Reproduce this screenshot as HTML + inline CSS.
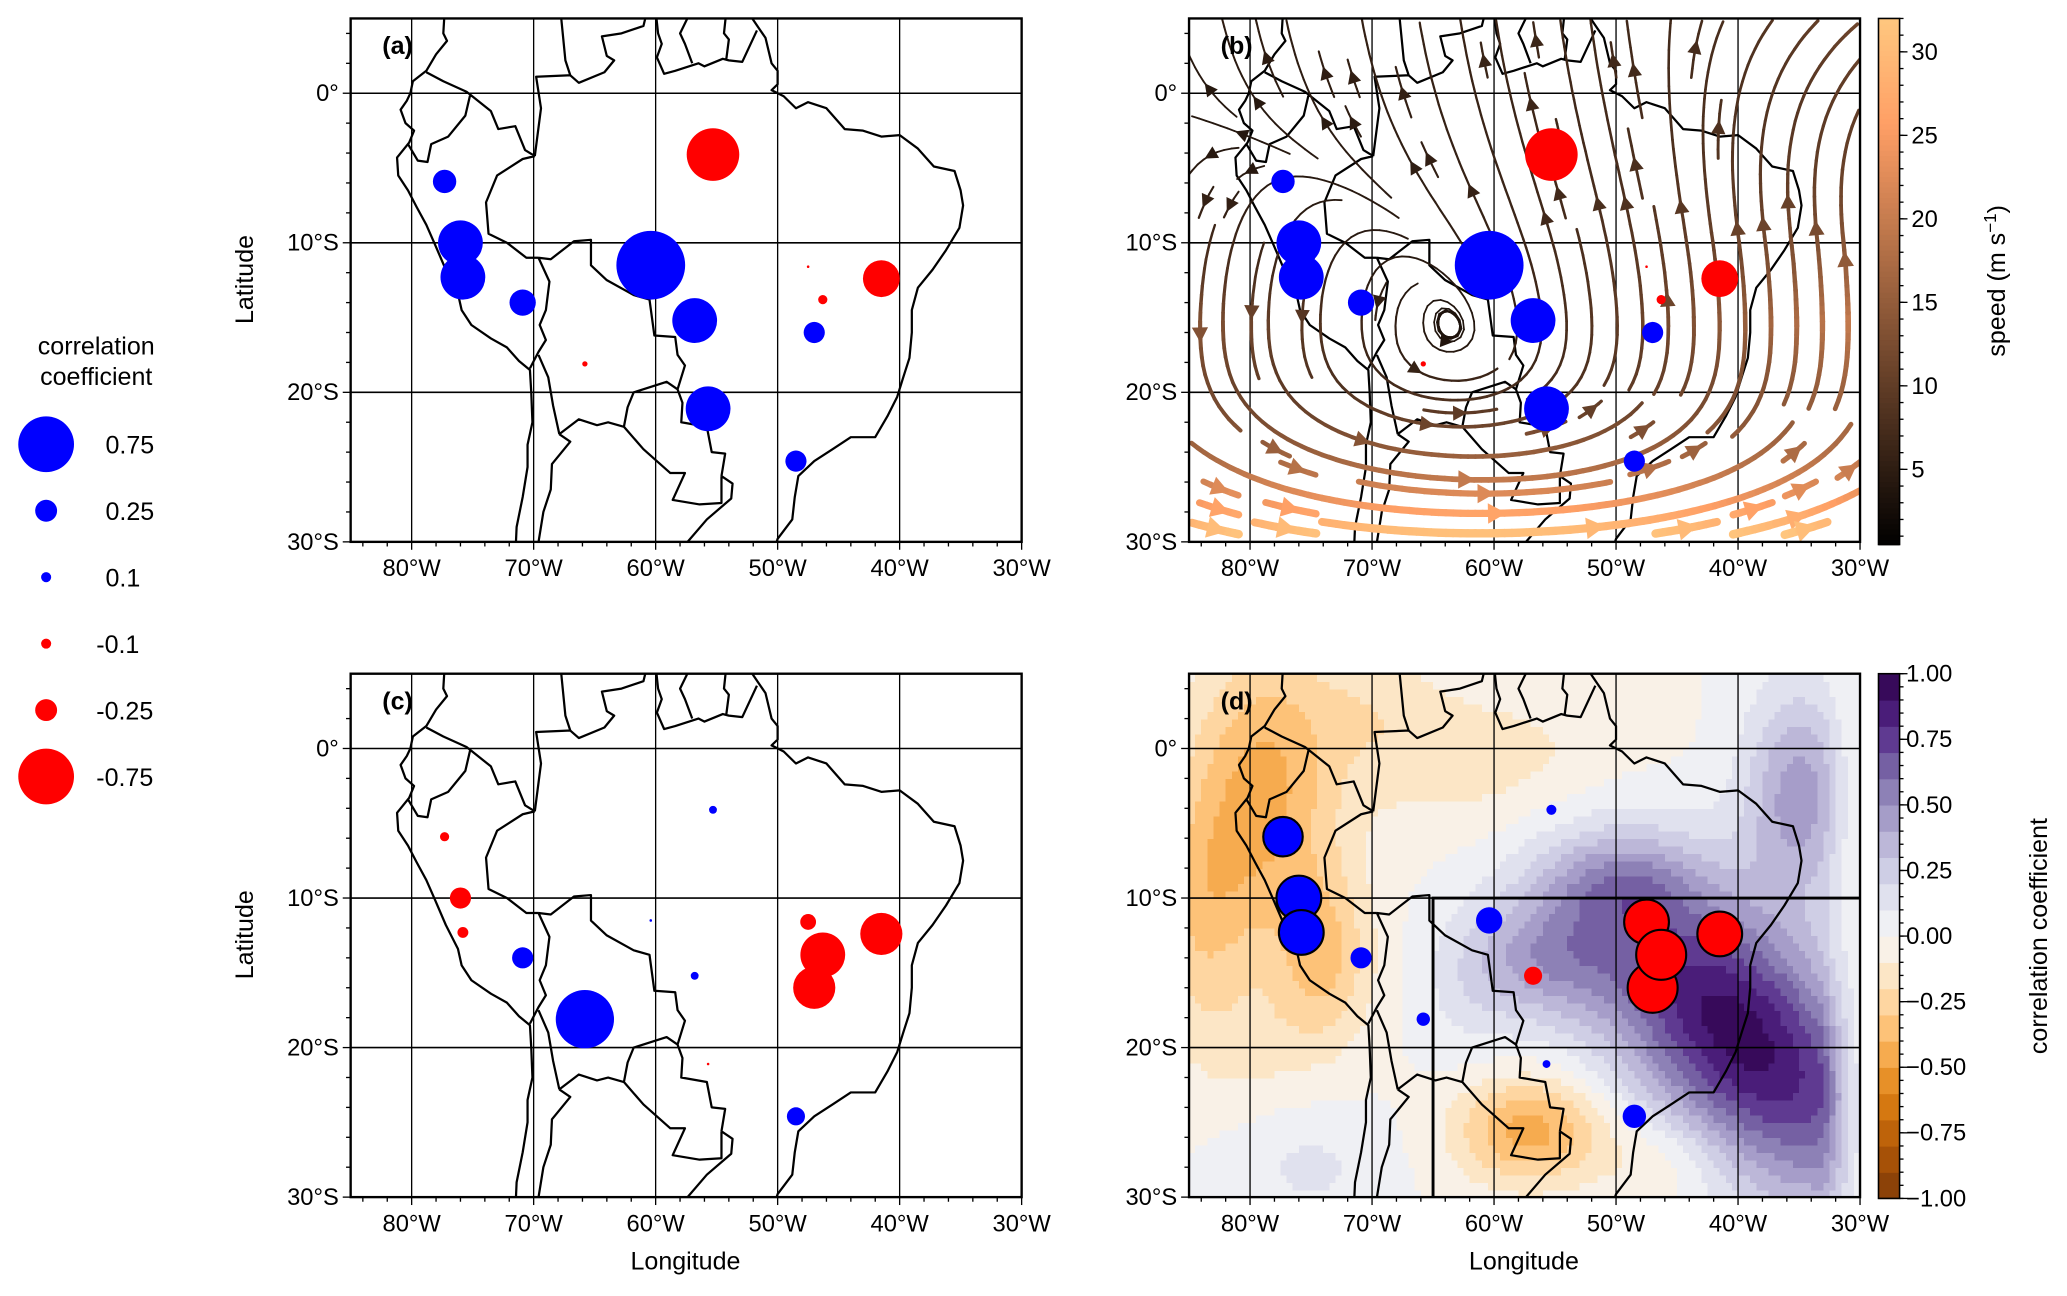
<!DOCTYPE html>
<html><head><meta charset="utf-8"><style>
html,body{margin:0;padding:0;background:#fff;}
svg{display:block;font-family:"Liberation Sans","DejaVu Sans",sans-serif;}
</style></head><body>
<svg id="fig" width="2067" height="1296" viewBox="0 0 1568 983" preserveAspectRatio="none" xmlns="http://www.w3.org/2000/svg">
<defs>
<clipPath id="clipA"><rect x="266" y="14" width="509" height="397"/></clipPath>
<clipPath id="clipB"><rect x="902" y="14" width="509" height="397"/></clipPath>
<clipPath id="clipC"><rect x="266" y="511" width="509" height="397"/></clipPath>
<clipPath id="clipD"><rect x="902" y="511" width="509" height="397"/></clipPath>
</defs>
<g id="plotroot"></g>
<text id="errmsg" x="4" y="978" font-size="8" fill="#999"></text>
</svg>
<script>
// ---------- data ----------
var stationLon = [-77.3,-76.0,-75.8,-70.9,-60.4,-55.3,-56.8,-55.7,-65.8,-48.5,-47.0,-47.5,-46.3,-41.5];
var stationLat = [-5.9,-10.0,-12.3,-14.0,-11.5,-4.1,-15.2,-21.1,-18.1,-24.6,-16.0,-11.6,-13.8,-12.4];
var corrA = [0.27,0.58,0.58,0.31,0.96,-0.70,0.58,0.58,-0.047,0.24,0.24,-0.02,-0.09,-0.46];
var corrC = [-0.09,-0.24,-0.11,0.24,0.02,0.075,0.075,-0.02,0.79,0.20,-0.54,-0.17,-0.58,-0.54];
var corrD = [0.50,0.58,0.58,0.24,0.31,0.10,-0.20,0.075,0.14,0.27,-0.66,-0.58,-0.66,-0.58];
var legendValues = [0.75,0.25,0.1,-0.1,-0.25,-0.75];
var legendLabels = ["0.75","0.25","0.1","-0.1","-0.25","-0.75"];
var lonTicks = [-80,-70,-60,-50,-40,-30];
var lonTickLabels = ["80°W","70°W","60°W","50°W","40°W","30°W"];
var latTicks = [0,-10,-20,-30];
var latTickLabels = ["0°","10°S","20°S","30°S"];
var speedTicks = [5,10,15,20,25,30];
var corrTicks = [-1,-0.75,-0.5,-0.25,0,0.25,0.5,0.75,1];
var corrTickLabels = ["\u22121.00","\u22120.75","\u22120.50","\u22120.25","0.00","0.25","0.50","0.75","1.00"];

var SVGNS="http://www.w3.org/2000/svg";
var plotRoot=document.getElementById('plotroot');
function mk(tag,attrs,par){var e=document.createElementNS(SVGNS,tag);for(var k in attrs)e.setAttribute(k,attrs[k]);(par||plotRoot).appendChild(e);return e;}
function logErr(e){var m=document.getElementById('errmsg');m.textContent+=' '+(e&&e.message?e.message:String(e));}
var LON0=-85,LON1=-30,LAT0=5,LAT1=-30;
var PXD=509/55, PYD=397/35;
function mkX(x0){return function(lon){return x0+(lon-LON0)*PXD;};}
function mkY(y0){return function(lat){return y0+(LAT0-lat)*PYD;};}
var panels={
 a:{x0:266,y0:14},b:{x0:902,y0:14},c:{x0:266,y0:511},d:{x0:902,y0:511}};
for(var pk in panels){panels[pk].X=mkX(panels[pk].x0);panels[pk].Y=mkY(panels[pk].y0);}

var coastW=[[-77.3,5.5],[-77.4,4],[-77.1,3.5],[-78,2.6],[-78.8,1.5],[-79.9,0.8],[-80.1,0],[-80.4,-0.5],[-80.9,-1.1],[-80.5,-2],[-79.8,-2.5],[-80.2,-3.3],[-81.2,-4.3],[-81.1,-5.5],[-80.3,-6.5],[-79.6,-7.6],[-78.8,-8.8],[-78.1,-10.1],[-77.2,-11.8],[-76.2,-13.4],[-75.9,-14.5],[-75.1,-15.5],[-73.5,-16.4],[-72.2,-17],[-71.2,-17.9],[-70.3,-18.5],[-70.2,-20],[-70.1,-22],[-70.5,-23.5],[-70.5,-25],[-70.9,-27],[-71.4,-29],[-71.5,-31]];
var coastE=[[-52.5,5.5],[-51.5,4.3],[-51,3.7],[-50.5,2],[-50,1.5],[-50,0.6],[-50.5,0.2],[-49.5,-0.2],[-48.5,-1],[-47.5,-0.6],[-46,-1],[-44.5,-2.4],[-43,-2.5],[-41.5,-2.9],[-40,-2.8],[-38.5,-3.7],[-37.2,-4.9],[-35.5,-5.2],[-35,-6.5],[-34.8,-7.5],[-35.1,-9],[-36.2,-10.5],[-37.3,-11.8],[-38.5,-13],[-39,-14.5],[-39,-16],[-39.2,-17.7],[-39.7,-19],[-40.2,-20.3],[-41,-21.6],[-42,-23],[-44,-23],[-45.5,-23.8],[-47,-24.6],[-48.3,-25.6],[-48.6,-27],[-48.8,-28.5],[-50,-29.8],[-50.5,-31]];
var borderLines=[
 [[-78.8,1.4],[-77.4,0.8],[-75.5,0.1],[-75.2,-0.1]],
 [[-75.2,-0.1],[-75.6,-1.5],[-77,-2.9],[-78.4,-3.4],[-78.7,-4.6],[-79.5,-4.5],[-80.3,-3.4]],
 [[-75.2,-0.1],[-73.5,-1.2],[-72.9,-2.4],[-71.5,-2.2],[-70.7,-3.8],[-69.9,-4.2]],
 [[-67.8,5.5],[-67.4,2.2],[-67,1.2],[-69.8,1.1],[-69.4,-1],[-69.9,-4.2]],
 [[-69.9,-4.2],[-70.9,-4.4],[-73,-5.5],[-73.9,-7.3],[-73.7,-9.4],[-72.2,-10],[-70.6,-11],[-69.6,-11]],
 [[-69.6,-11],[-68.7,-12.6],[-69,-14.5],[-69.5,-15.5],[-69,-16.5],[-69.6,-17.3],[-70.3,-18.4]],
 [[-69.6,-17.5],[-68.8,-19],[-68.4,-20.9],[-67.9,-22.8]],
 [[-67.9,-22.8],[-67,-23.3],[-68.5,-24.8],[-68.6,-26.5],[-69.2,-28],[-69.8,-31]],
 [[-69.6,-11],[-68.6,-11.1],[-66.7,-9.9],[-65.3,-9.8],[-65.3,-11.5],[-64,-12.5],[-61.8,-13.5],[-60.5,-13.8],[-60.1,-16.2],[-58.4,-16.3],[-58.2,-17.5],[-57.6,-18.2],[-58.2,-19.8]],
 [[-58.2,-19.8],[-59.1,-19.3],[-61.8,-20],[-62.3,-21],[-62.6,-22.3]],
 [[-67.9,-22.8],[-66.3,-21.8],[-64.8,-22.2],[-63.9,-22],[-62.6,-22.3]],
 [[-62.6,-22.3],[-61,-23.8],[-58.8,-25.4],[-57.6,-25.4],[-58.6,-27.2],[-56.4,-27.5],[-54.6,-27.4],[-54.6,-25.6]],
 [[-58.2,-19.8],[-57.8,-20.7],[-57.9,-22],[-55.8,-22.3],[-55.4,-24],[-54.3,-24.1],[-54.6,-25.6]],
 [[-54.6,-25.6],[-53.7,-26.1],[-53.8,-27.1],[-55.8,-28.5],[-57.6,-30.2]],
 [[-67,1.2],[-66.3,0.7],[-64.2,1.4],[-63.4,2.2],[-64,2.5],[-64.4,3.8],[-62.8,4],[-61,4.5],[-60.7,5.5]],
 [[-60,5.5],[-59.8,4],[-59.5,3.3],[-59.9,2.4],[-59.3,1.3],[-58.4,1.5],[-56.5,2],[-56,1.8],[-54.5,2.3],[-54,2.2],[-52.9,2.1],[-51.7,4.2]],
 [[-57.1,5.5],[-58,4],[-57.6,3.3],[-57,2.0]],
 [[-54.2,5.5],[-54.4,4],[-54,3.6],[-54.2,2.3]]
];
function pathOf(p,pts){var s='';for(var i=0;i<pts.length;i++){s+=(i?'L':'M')+p.X(pts[i][0]).toFixed(1)+' '+p.Y(pts[i][1]).toFixed(1);}return s;}
function drawMap(p,g){
  var dd=pathOf(p,coastW)+pathOf(p,coastE);
  for(var i=0;i<borderLines.length;i++)dd+=pathOf(p,borderLines[i]);
  var m=mk('path',{d:dd,fill:'none',stroke:'#000','stroke-width':1.7,'stroke-linejoin':'round'},g);
  
  
}
function drawGrid(p,g){
  [-80,-70,-60,-50,-40].forEach(function(lo){
    var l=mk('line',{x1:p.X(lo),x2:p.X(lo),y1:p.y0,y2:p.y0+397,stroke:'#000','stroke-width':1},g);
    
    
  });
  [0,-10,-20].forEach(function(la){
    var l=mk('line',{x1:p.x0,x2:p.x0+509,y1:p.Y(la),y2:p.Y(la),stroke:'#000','stroke-width':1.2},g);
    
    
  });
}
function rad(c){return 27*Math.pow(Math.abs(c),0.85);}
function drawStations(p,vals,g,outline){
  for(var i=0;i<vals.length;i++){
    var c=vals[i];
    var cir=mk('circle',{cx:p.X(stationLon[i]),cy:p.Y(stationLat[i]),r:Math.max(0.8,rad(c)),fill:c>=0?'#0000ff':'#ff0000'},g);
    if(outline && Math.abs(c)>=0.45){cir.setAttribute('stroke','#000');cir.setAttribute('stroke-width','1.6');}
    
    
  }
}
function drawAxes(p,g,xlabel,ylabel,tag){
  var fr=mk('rect',{x:p.x0,y:p.y0,width:509,height:397,fill:'none',stroke:'#000','stroke-width':1.8},g);
  
  
  var bot=p.y0+397;
  for(var lo=-84;lo<=-30;lo+=2){
    var major=lo%10===0;
    var t=mk('line',{x1:p.X(lo),x2:p.X(lo),y1:bot,y2:bot+(major?6:3.5),stroke:'#000','stroke-width':1},g);
    
    
  }
  for(var la=4;la>=-30;la-=2){
    var mj=la%10===0;
    var t2=mk('line',{x1:p.x0,x2:p.x0-(mj?6:3.5),y1:p.Y(la),y2:p.Y(la),stroke:'#000','stroke-width':1},g);
    
    
  }
  lonTicks.forEach(function(lo,i){
    var t=mk('text',{x:p.X(lo),y:bot+26,'font-size':18,'text-anchor':'middle'},g);
    t.textContent=lonTickLabels[i];
    
    
  });
  latTicks.forEach(function(la,i){
    var t=mk('text',{x:p.x0-9,y:p.Y(la)+6,'font-size':18,'text-anchor':'end'},g);
    t.textContent=latTickLabels[i];
    
    
  });
  if(xlabel){
    var tx=mk('text',{x:p.x0+254,y:bot+55,'font-size':19,'text-anchor':'middle'},g);
    tx.textContent='Longitude';
    
    
  }
  if(ylabel){
    var ty=mk('text',{x:0,y:0,'font-size':19,'text-anchor':'middle',transform:'translate('+(p.x0-74)+','+(p.y0+198)+') rotate(-90)'},g);
    ty.textContent='Latitude';
    
    
  }
  var lab=mk('text',{x:p.x0+24,y:p.y0+27,'font-size':19,'font-weight':'bold'},g);
  lab.textContent='('+tag+')';
  
  
}

function copper(s){var x=Math.min(1,Math.max(0,(s-0.5)/31.5));
  return 'rgb('+Math.round(255*Math.min(1,1.25*x))+','+Math.round(255*0.7812*x)+','+Math.round(255*0.4975*x)+')';}
var puorStops=['#7f3b08','#b35806','#e08214','#fdb863','#fee0b6','#f7f7f7','#d8daeb','#b2abd2','#8073ac','#542788','#2d004b'];
function hexc(h){return [parseInt(h.slice(1,3),16),parseInt(h.slice(3,5),16),parseInt(h.slice(5,7),16)];}
function puor(c){var t=(c+1)/2*10;t=Math.max(0,Math.min(10,t));var i=Math.min(9,Math.floor(t)),f=t-i;
  var a=hexc(puorStops[i]),b=hexc(puorStops[i+1]);
  return 'rgb('+Math.round(a[0]+(b[0]-a[0])*f)+','+Math.round(a[1]+(b[1]-a[1])*f)+','+Math.round(a[2]+(b[2]-a[2])*f)+')';}

function dField(x,y){
  function G(cx,cy,sx,sy){return Math.exp(-Math.pow((x-cx)/sx,2)-Math.pow((y-cy)/sy,2));}
  var ax=x+40,ay=y+19;
  var al=ax*0.78-ay*0.62, pe=ax*0.62+ay*0.78;
  var p=0.95*Math.exp(-Math.pow(al/15,2)-Math.pow(pe/7.5,2));
  p+=0.45*G(-35,-3,4.5,7);
  p+=0.35*G(-56,-14,6,4);
  p+=0.25*G(-50,-9,6,3);
  p+=0.12*G(-75,-28,6,4);
  p+=0.1*G(-62,-16,4,5);
  if(x>-33)p*=Math.max(0,1-(x+33)/3.5);
  var o=-0.42*G(-79,-3,6,10)-0.25*G(-84,-11,4,8)-0.3*G(-74,-14,4,6)-0.45*G(-57,-25.5,6,3.5)
    -0.18*G(-60,-1,12,5)-0.15*G(-46,-27.5,5,3)-0.12*G(-70,3,6,4)-0.1*G(-80,-20,5,4);
  return p+o;
}
function vfield(x,y){
  var dx=x+57,dy=y+15.5;
  var rot=0.22*(dy>0?Math.exp(-dy/7):1+(-dy)/5);
  var u=-dy*rot;
  var v=dx*0.22*(dy>0?Math.exp(-dy/9):1)/(1+Math.max(0,-dy)/12);
  v+=1.4*(dy>0?1:Math.max(0.3,1+dy/15));
  u+=2.2*Math.max(0,(x+48)/18)*Math.max(0,(y+5)/10+0.5);
  return [u,v];
}
function speedOf(w){return Math.min(32,Math.hypot(w[0],w[1])*2.4+3);}

// ---------- legend ----------
try{
var lg=mk('g',{});


var lt1=mk('text',{x:73,y:269,'font-size':19,'text-anchor':'middle'},lg);lt1.textContent='correlation';


var lt2=mk('text',{x:73,y:292,'font-size':19,'text-anchor':'middle'},lg);lt2.textContent='coefficient';


legendValues.forEach(function(v,i){
  var y=337+i*50.4;
  var c=mk('circle',{cx:35,cy:y,r:rad(v),fill:v>0?'#0000ff':'#ff0000'},lg);
  
  
  var t=mk('text',{x:v<0?73:80,y:y+7,'font-size':19},lg);
  t.textContent=legendLabels[i];
  
  
});
}catch(e){logErr(e);}

// ---------- panel a ----------
try{(function(){var p=panels.a;var g=mk('g',{});
 var cg=mk('g',{'clip-path':'url(#clipA)'},g);drawMap(p,cg);drawGrid(p,cg);drawStations(p,corrA,cg,false);
 drawAxes(p,g,false,true,'a');})();}catch(e){logErr(e);}
// ---------- panel c ----------
try{(function(){var p=panels.c;var g=mk('g',{});
 var cg=mk('g',{'clip-path':'url(#clipC)'},g);drawMap(p,cg);drawGrid(p,cg);drawStations(p,corrC,cg,false);
 drawAxes(p,g,true,true,'c');})();}catch(e){logErr(e);}
// ---------- panel d ----------
try{(function(){var p=panels.d;var g=mk('g',{});
 var cg=mk('g',{'clip-path':'url(#clipD)'},g);
 var fg=mk('g',{'shape-rendering':'crispEdges'},cg);
 
 
 var st=0.5;
 for(var x=LON0;x<LON1;x+=st){for(var y=LAT1;y<LAT0;y+=st){
   var v=dField(x+st/2,y+st/2);var lv=Math.floor(v*10)/10+0.05;
   mk('rect',{x:p.X(x).toFixed(2),y:p.Y(y+st).toFixed(2),width:(st*PXD+0.6).toFixed(2),height:(st*PYD+0.6).toFixed(2),fill:puor(lv)},fg);
 }}
 drawMap(p,cg);drawGrid(p,cg);
 var bx=mk('path',{d:'M'+p.X(-65)+' '+p.Y(-30)+'L'+p.X(-65)+' '+p.Y(-10)+'L'+p.X(-30)+' '+p.Y(-10),fill:'none',stroke:'#000','stroke-width':2.2},cg);
 
 
 drawStations(p,corrD,cg,true);
 drawAxes(p,g,true,false,'d');
 var cb=mk('g',{});
 
 
 var cy0=511,cy1=909,cx=1425,cw=16;
 for(var i=0;i<20;i++){var vv=-1+i*0.1+0.05;
   mk('rect',{x:cx,y:cy1-(i+1)*(cy1-cy0)/20,width:cw,height:(cy1-cy0)/20+0.5,fill:puor(vv)},cb);}
 mk('rect',{x:cx,y:cy0,width:cw,height:cy1-cy0,fill:'none',stroke:'#000','stroke-width':1.2},cb);
 for(var k=0;k<=40;k++){var yy=cy1-k/40*(cy1-cy0);mk('line',{x1:cx+cw,x2:cx+cw+3,y1:yy,y2:yy,stroke:'#000'},cb);}
 corrTicks.forEach(function(v,i){var y=cy1-(v+1)/2*(cy1-cy0);
   mk('line',{x1:cx+cw,x2:cx+cw+6,y1:y,y2:y,stroke:'#000'},cb);
   var t=mk('text',{x:1446,y:y+6,'font-size':18},cb);t.textContent=corrTickLabels[i];
   
   });
 var tt=mk('text',{x:0,y:0,'font-size':19,'text-anchor':'middle',transform:'translate(1553,710) rotate(-90)'},cb);
 tt.textContent='correlation coefficient';
 
 
})();}catch(e){logErr(e);}
// ---------- panel b ----------
try{(function(){var p=panels.b;var g=mk('g',{});
 var cg=mk('g',{'clip-path':'url(#clipB)'},g);drawMap(p,cg);drawGrid(p,cg);
 var sg=mk('g',{},cg);
 
 
 var N=26,occ=[];for(var q=0;q<N*N;q++)occ.push(0);
 function cell(x,y){var i=Math.floor((x-LON0)/(LON1-LON0)*N),j=Math.floor((LAT0-y)/(LAT0-LAT1)*N);if(i<0||j<0||i>=N||j>=N)return -1;return j*N+i;}
 function trace(x,y,dir){var pts=[];var cur=cell(x,y);var vis=[cur];
   for(var k=0;k<400;k++){var w=vfield(x,y);var m=Math.hypot(w[0],w[1]);if(m<0.05)break;
     x+=dir*w[0]/m*0.3;y+=dir*w[1]/m*0.3;var c=cell(x,y);if(c<0)break;
     if(c!==cur){if(occ[c])break;cur=c;vis.push(c);}pts.push([x,y]);}
   return {pts:pts,vis:vis};}
 var order=[];for(var j=0;j<N;j++)for(var i=0;i<N;i++)order.push([i,j]);
 order.sort(function(a,b){return (Math.abs(a[0]-N/2)+Math.abs(a[1]-N/2))-(Math.abs(b[0]-N/2)+Math.abs(b[1]-N/2));});
 for(var oi=0;oi<order.length;oi++){var ii=order[oi][0],jj=order[oi][1];var c=jj*N+ii;if(occ[c])continue;
   var x=LON0+(ii+0.5)*(LON1-LON0)/N,y=LAT0-(jj+0.5)*(LAT0-LAT1)/N;
   occ[c]=1;var fw=trace(x,y,1),bw=trace(x,y,-1);
   var pts=bw.pts.reverse().concat([[x,y]],fw.pts);
   if(pts.length<8)continue;
   fw.vis.forEach(function(z){occ[z]=1;});bw.vis.forEach(function(z){occ[z]=1;});
   for(var k=0;k<pts.length-1;k+=2){var q0=pts[k],q1=pts[Math.min(k+2,pts.length-1)];
     var s=speedOf(vfield(q0[0],q0[1]));
     mk('line',{x1:p.X(q0[0]).toFixed(1),y1:p.Y(q0[1]).toFixed(1),x2:p.X(q1[0]).toFixed(1),y2:p.Y(q1[1]).toFixed(1),stroke:copper(s),'stroke-width':(0.6+s/32*6).toFixed(2),'stroke-linecap':'round'},sg);}
   var mi=Math.floor(pts.length/2),a=pts[mi],bq=pts[Math.min(pts.length-1,mi+1)];
   var ax=p.X(a[0]),ay=p.Y(a[1]),bx2=p.X(bq[0]),by=p.Y(bq[1]);var ang=Math.atan2(by-ay,bx2-ax);
   var s2=speedOf(vfield(a[0],a[1]));var L=9+s2/32*6,W=4.5+s2/32*4;
   var ca=Math.cos(ang),sa=Math.sin(ang);
   var pts3=[[ax+ca*L/2,ay+sa*L/2],[ax-ca*L/2-sa*W,ay-sa*L/2+ca*W],[ax-ca*L/2+sa*W,ay-sa*L/2-ca*W]];
   var ar=mk('polygon',{points:pts3.map(function(z){return z[0].toFixed(1)+','+z[1].toFixed(1);}).join(' '),fill:copper(s2)},sg);
   
   
 }
 drawStations(p,corrA,cg,false);
 drawAxes(p,g,false,false,'b');
 var cb=mk('g',{});
 
 
 var cy0=14,cy1=413,cx=1425,cw=16,smin=0.5,smax=32;
 for(var i2=0;i2<100;i2++){var sv=smin+(i2+0.5)*(smax-smin)/100;
   mk('rect',{x:cx,y:cy1-(i2+1)*(cy1-cy0)/100,width:cw,height:(cy1-cy0)/100+0.6,fill:copper(sv)},cb);}
 mk('rect',{x:cx,y:cy0,width:cw,height:cy1-cy0,fill:'none',stroke:'#000','stroke-width':1.2},cb);
 for(var s3=1;s3<=32;s3++){var y3=cy1-(s3-smin)/(smax-smin)*(cy1-cy0);mk('line',{x1:cx+cw,x2:cx+cw+3,y1:y3,y2:y3,stroke:'#000'},cb);}
 speedTicks.forEach(function(s){var y=cy1-(s-smin)/(smax-smin)*(cy1-cy0);
   mk('line',{x1:cx+cw,x2:cx+cw+6,y1:y,y2:y,stroke:'#000'},cb);
   var t=mk('text',{x:1450,y:y+6,'font-size':18},cb);t.textContent=String(s);
   
   });
 var tt=mk('text',{x:0,y:0,'font-size':19,'text-anchor':'middle',transform:'translate(1521,213) rotate(-90)'},cb);
 
 
 var ts1=mk('tspan',{},tt);ts1.textContent='speed (m s';
 var ts2=mk('tspan',{dy:-7,'font-size':13},tt);ts2.textContent='\u22121';
 var ts3=mk('tspan',{dy:7},tt);ts3.textContent=')';
})();}catch(e){logErr(e);}
</script>
</body></html>
